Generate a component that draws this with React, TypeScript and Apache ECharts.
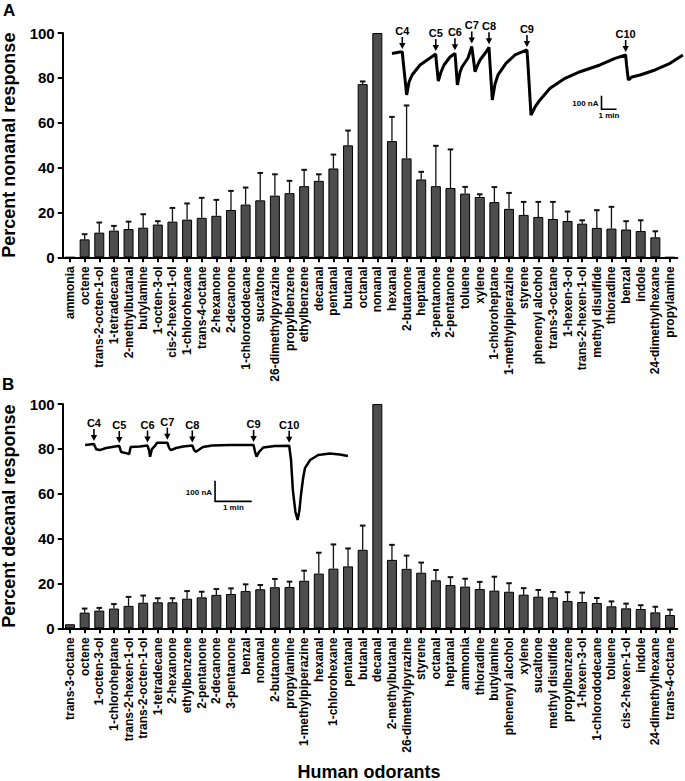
import React, { useEffect, useRef } from "react";
import * as echarts from "echarts";

// ---------- Panel A data (percent nonanal response) ----------
const categoriesA = [
  "ammonia", "octene", "trans-2-octen-1-ol", "1-tetradecane", "2-methylbutanal", "butylamine",
  "1-octen-3-ol", "cis-2-hexen-1-ol", "1-chlorohexane", "trans-4-octane", "2-hexanone", "2-decanone",
  "1-chlorododecane", "sucaltone", "26-dimethylpyrazine", "propylbenzene", "ethylbenzene", "decanal",
  "pentanal", "butanal", "octanal", "nonanal", "hexanal", "2-butanone", "heptanal", "3-pentanone",
  "2-pentanone", "toluene", "xylene", "1-chloroheptane", "1-methylpiperazine", "styrene",
  "phenenyl alcohol", "trans-3-octane", "1-hexen-3-ol", "trans-2-hexen-1-ol", "methyl disulfide",
  "thioradine", "benzal", "indole", "24-dimethylhexane", "propylamine",
];
const valuesA = [
  0, 8.0, 11.0, 11.9, 12.6, 13.2, 14.6, 15.9, 16.8, 17.6, 18.5, 21.1, 23.5, 25.4, 27.5, 28.6, 31.7, 34.1,
  39.6, 49.9, 77.2, 100, 51.8, 44.1, 34.7, 31.7, 30.9, 28.4, 26.9, 24.6, 21.6, 18.9, 18.0, 17.1, 16.2,
  15.0, 13.1, 12.8, 12.4, 11.7, 8.9, 0,
];
const semA = [
  null, 2.3, 4.5, 2.1, 3.3, 6.0, 1.5, 6.1, 7.2, 8.9, 7.1, 8.5, 7.6, 12.2, 9.5, 5.5, 7.3, 2.9,
  6.2, 6.6, 1.2, null, 10.8, 23.6, 3.4, 18.0, 17.2, 3.0, 1.2, 6.7, 7.1, 5.8, 6.7, 7.6, 4.2,
  1.5, 7.9, 9.7, 3.7, 4.8, 2.7, null,
];

// ---------- Panel B data (percent decanal response) ----------
const categoriesB = [
  "trans-3-octane", "octene", "1-octen-3-ol", "1-chloroheptane", "trans-2-hexen-1-ol", "trans-2-octen-1-ol",
  "1-tetradecane", "2-hexanone", "ethylbenzene", "2-pentanone", "2-decanone", "3-pentanone", "benzal",
  "nonanal", "2-butanone", "propylamine", "1-methylpiperazine", "hexanal", "1-chlorohexane", "pentanal",
  "butanal", "decanal", "2-methylbutanal", "26-dimethylpyrazine", "styrene", "octanal", "heptanal",
  "ammonia", "thioradine", "butylamine", "phenenyl alcohol", "xylene", "sucaltone", "methyl disulfide",
  "propylbenzene", "1-hexen-3-ol", "1-chlorododecane", "toluene", "cis-2-hexen-1-ol", "indole",
  "24-dimethylhexane", "trans-4-octane",
];
const valuesB = [
  1.8, 7.0, 7.9, 8.8, 10.0, 11.4, 11.6, 11.6, 13.2, 13.8, 14.9, 15.3, 16.6, 17.4, 18.3, 18.4, 21.2,
  24.4, 26.6, 27.6, 35.0, 100, 30.5, 26.5, 24.8, 21.4, 19.3, 18.6, 17.5, 16.8, 16.3, 15.0, 14.1, 13.8,
  12.2, 11.7, 11.3, 9.8, 8.9, 8.6, 7.1, 5.9,
];
const semB = [
  null, 1.8, 1.2, 2.0, 4.0, 3.2, 1.8, 1.8, 3.4, 2.5, 2.6, 2.5, 3.0, 1.9, 3.7, 2.4, 4.5,
  9.3, 10.8, 8.0, 10.8, null, 6.7, 5.9, 4.5, 4.6, 3.5, 3.5, 3.2, 6.2, 3.8, 2.9, 3.0, 2.4,
  3.9, 4.2, 2.2, 2.2, 2.1, 1.7, 2.5, 2.4,
];

const yTicks = [0, 20, 40, 60, 80, 100];

// ---------- Inset traces: [time (min), current (nA)] ----------
const traceA = [
  [0.13, -100], [0.67, -89], [0.82, -89], [0.87, -148], [1.11, -407], [1.27, -311], [1.47, -259],
  [2.0, -185], [2.67, -133], [3.05, -104], [3.08, -148], [3.22, -304], [3.4, -237], [3.6, -185],
  [4.0, -126], [4.33, -99], [4.37, -148], [4.49, -333], [4.67, -237], [4.8, -200], [5.2, -133],
  [5.45, -48], [5.5, -89], [5.67, -235], [5.87, -178], [6.0, -148], [6.4, -89], [6.6, -54],
  [6.65, -148], [6.82, -444], [7.0, -326], [7.2, -259], [7.73, -173], [8.33, -111], [9.13, -74],
  [9.2, -185], [9.4, -556], [9.67, -496], [10.0, -444], [10.67, -358], [11.67, -284], [12.67, -235],
  [14.0, -185], [15.0, -136], [15.71, -111], [15.77, -185], [15.89, -296], [16.13, -274],
  [16.67, -259], [17.67, -222], [18.67, -173], [19.53, -111],
];
const stimLabels = ["C4", "C5", "C6", "C7", "C8", "C9", "C10"];
const stimTimesA = [0.82, 3.05, 4.33, 5.45, 6.6, 9.13, 15.71];
const stimLevelsA = [-89, -104, -99, -48, -54, -74, -111];

const traceB = [
  [0.14, -72], [0.38, -68], [0.44, -93], [0.54, -97], [0.71, -87], [1.04, -77], [1.07, -77],
  [1.12, -106], [1.28, -113], [1.34, -116], [1.38, -82], [1.63, -80], [1.84, -75], [1.88, -97],
  [1.91, -129], [1.96, -92], [2.04, -77], [2.1, -61], [2.38, -61], [2.43, -87], [2.48, -97],
  [2.62, -87], [2.81, -80], [3.06, -75], [3.11, -97], [3.16, -105], [3.35, -82], [3.6, -75],
  [4.09, -72], [4.73, -72], [4.77, -106], [4.81, -129], [4.88, -106], [4.99, -85], [5.31, -77],
  [5.7, -76], [5.75, -145], [5.8, -290], [5.87, -396], [5.93, -435], [5.98, -387], [6.02, -314],
  [6.08, -232], [6.13, -184], [6.27, -145], [6.49, -121], [6.81, -113], [7.08, -118], [7.3, -126],
];
const stimTimesB = [0.38, 1.07, 1.84, 2.38, 3.06, 4.73, 5.7];
const stimLevelsB = [-68, -77, -75, -61, -75, -72, -76];

// scale bars: [time origin, current origin, 1 min, 100 nA]
const scaleBarA = [14.1, -513, 1, 100];
const scaleBarB = [3.68, -345, 1, 100];

const FONT = "'Liberation Sans', Arial, Helvetica, sans-serif";

function errData(values: number[], sem: (number | null)[]) {
  const out: number[][] = [];
  values.forEach((v, i) => {
    if (sem[i] != null) out.push([i, v, sem[i] as number]);
  });
  return out;
}

function errorRender(params: any, api: any) {
  const i = api.value(0);
  const v = api.value(1);
  const e = api.value(2);
  const b = api.coord([i, v]);
  const t = api.coord([i, v + e]);
  return {
    type: "group",
    children: [
      { type: "line", shape: { x1: b[0], y1: b[1], x2: t[0], y2: t[1] }, style: { stroke: "#111", lineWidth: 1.3 } },
      { type: "line", shape: { x1: t[0] - 2.8, y1: t[1], x2: t[0] + 2.8, y2: t[1] }, style: { stroke: "#111", lineWidth: 2 } },
    ],
  };
}

function stimRender(params: any, api: any) {
  const p = api.coord([api.value(0), api.value(1)]);
  const label = stimLabels[api.value(2)];
  const x = p[0];
  const y = p[1];
  return {
    type: "group",
    children: [
      { type: "line", shape: { x1: x, y1: y - 15, x2: x, y2: y - 8 }, style: { stroke: "#000", lineWidth: 1.6 } },
      { type: "polygon", shape: { points: [[x - 3.2, y - 9], [x + 3.2, y - 9], [x, y - 3]] }, style: { fill: "#000" } },
      {
        type: "text",
        x: x,
        y: y - 21,
        style: { text: label, fill: "#000", font: `bold 11px ${FONT}`, textAlign: "center", textVerticalAlign: "middle" },
      },
    ],
  };
}

function scaleRender(params: any, api: any) {
  const t0 = api.value(0), i0 = api.value(1), dt = api.value(2), di = api.value(3);
  const o = api.coord([t0, i0]);
  const up = api.coord([t0, i0 + di]);
  const rt = api.coord([t0 + dt, i0]);
  return {
    type: "group",
    children: [
      { type: "polyline", shape: { points: [up, o, rt] }, style: { stroke: "#000", lineWidth: 1.6, fill: null } },
      {
        type: "text", x: o[0] - 3, y: (o[1] + up[1]) / 2 + 1,
        style: { text: "100 nA", fill: "#000", font: `bold 8px ${FONT}`, textAlign: "right", textVerticalAlign: "middle" },
      },
      {
        type: "text", x: (o[0] + rt[0]) / 2, y: o[1] + 6,
        style: { text: "1 min", fill: "#000", font: `bold 8px ${FONT}`, textAlign: "center", textVerticalAlign: "middle" },
      },
    ],
  };
}

function catAxis(gridIndex: number, cats: string[]) {
  return {
    type: "category",
    gridIndex,
    data: cats,
    axisLine: { show: true, lineStyle: { color: "#000", width: 2 } },
    axisTick: { show: true, alignWithLabel: true, length: 5, lineStyle: { color: "#000", width: 2 } },
    axisLabel: { interval: 0, rotate: 90, fontSize: 12, fontWeight: "bold", color: "#000", margin: 9, fontFamily: FONT },
    splitLine: { show: false },
  };
}

function valAxis(gridIndex: number, name: string) {
  return {
    type: "value",
    gridIndex,
    min: yTicks[0],
    max: yTicks[yTicks.length - 1],
    interval: yTicks[1] - yTicks[0],
    name,
    nameLocation: "middle",
    nameRotate: 90,
    nameGap: 45,
    nameTextStyle: { fontSize: 18, fontWeight: "bold", color: "#000", fontFamily: FONT },
    axisLine: { show: true, lineStyle: { color: "#000", width: 2 } },
    axisTick: { show: true, length: 5, lineStyle: { color: "#000", width: 2 } },
    axisLabel: { fontSize: 15, fontWeight: "bold", color: "#000", margin: 8, fontFamily: FONT },
    splitLine: { show: false },
  };
}

export default function App() {
  const ref = useRef<HTMLDivElement>(null);
  useEffect(() => {
    if (!ref.current) return;
    const chart = echarts.init(ref.current, null, { renderer: "svg" });
    const barStyle = { color: "#4d4d4d", borderColor: "#000", borderWidth: 1 };
    const option: any = {
      animation: false,
      backgroundColor: "#fff",
      textStyle: { fontFamily: FONT },
      grid: [
        { left: 62.7, top: 33, width: 614.6, height: 224.3, outerBoundsMode: "none" },
        { left: 62.7, top: 404, width: 614.6, height: 224.3, outerBoundsMode: "none" },
        { left: 390, top: 40, width: 300, height: 81, outerBoundsMode: "none" },
        { left: 80, top: 430, width: 293.6, height: 103.5, outerBoundsMode: "none" },
      ],
      xAxis: [
        catAxis(0, categoriesA),
        catAxis(1, categoriesB),
        { type: "value", gridIndex: 2, min: 0, max: 20, show: false },
        { type: "value", gridIndex: 3, min: 0, max: 8, show: false },
      ],
      yAxis: [
        valAxis(0, "Percent nonanal response"),
        valAxis(1, "Percent decanal response"),
        { type: "value", gridIndex: 2, min: -600, max: 0, show: false },
        { type: "value", gridIndex: 3, min: -500, max: 0, show: false },
      ],
      series: [
        { type: "bar", xAxisIndex: 0, yAxisIndex: 0, data: valuesA, barWidth: 10, itemStyle: barStyle },
        {
          type: "custom", xAxisIndex: 0, yAxisIndex: 0, renderItem: errorRender,
          data: errData(valuesA, semA), encode: { x: 0, y: [1, 2] }, z: 3,
        },
        { type: "bar", xAxisIndex: 1, yAxisIndex: 1, data: valuesB, barWidth: 10, itemStyle: barStyle },
        {
          type: "custom", xAxisIndex: 1, yAxisIndex: 1, renderItem: errorRender,
          data: errData(valuesB, semB), encode: { x: 0, y: [1, 2] }, z: 3,
        },
        {
          type: "line", xAxisIndex: 2, yAxisIndex: 2, data: traceA, showSymbol: false,
          lineStyle: { color: "#000", width: 3 }, z: 4,
        },
        {
          type: "custom", xAxisIndex: 2, yAxisIndex: 2, renderItem: stimRender, z: 4,
          data: stimTimesA.map((t, i) => [t, stimLevelsA[i], i]), encode: { x: 0, y: 1 },
        },
        {
          type: "custom", xAxisIndex: 2, yAxisIndex: 2, renderItem: scaleRender, z: 4,
          data: [scaleBarA], encode: { x: 0, y: 1 },
        },
        {
          type: "line", xAxisIndex: 3, yAxisIndex: 3, data: traceB, showSymbol: false,
          lineStyle: { color: "#000", width: 2.5 }, z: 4,
        },
        {
          type: "custom", xAxisIndex: 3, yAxisIndex: 3, renderItem: stimRender, z: 4,
          data: stimTimesB.map((t, i) => [t, stimLevelsB[i], i]), encode: { x: 0, y: 1 },
        },
        {
          type: "custom", xAxisIndex: 3, yAxisIndex: 3, renderItem: scaleRender, z: 4,
          data: [scaleBarB], encode: { x: 0, y: 1 },
        },
      ],
      graphic: [
        { type: "text", left: 3, top: 2, style: { text: "A", font: `bold 17px ${FONT}`, fill: "#000" } },
        { type: "text", left: 2, top: 376, style: { text: "B", font: `bold 17px ${FONT}`, fill: "#000" } },
        {
          type: "text", x: 369, y: 772,
          style: { text: "Human odorants", font: `bold 18px ${FONT}`, fill: "#000", textAlign: "center", textVerticalAlign: "middle" },
        },
      ],
    };
    chart.setOption(option);
    return () => chart.dispose();
  }, []);
  return <div ref={ref} style={{ position: "absolute", left: 0, top: 0, width: 685, height: 781 }} />;
}
